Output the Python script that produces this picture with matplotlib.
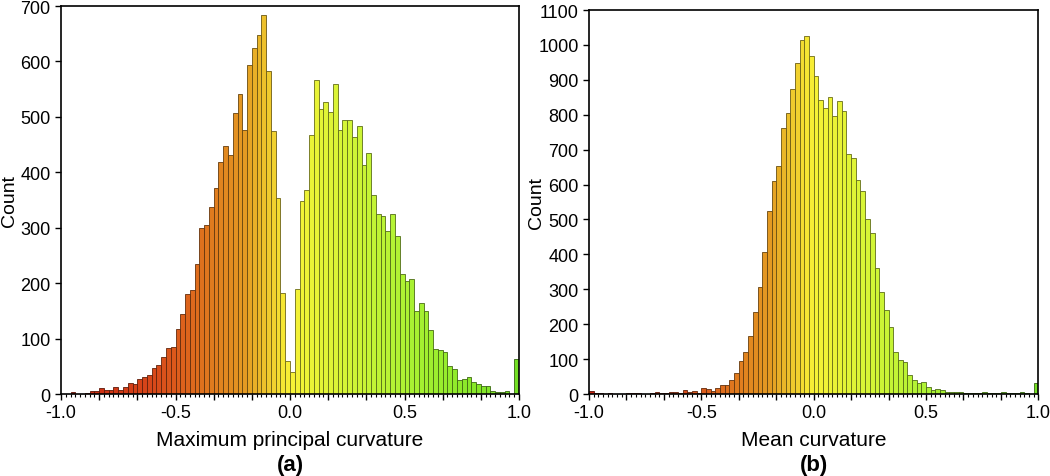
import numpy as np
import matplotlib.pyplot as plt
from matplotlib.colors import LinearSegmentedColormap, to_rgb
from matplotlib.ticker import MultipleLocator, FuncFormatter

plt.rcParams['font.family'] = ['Liberation Sans', 'DejaVu Sans']

# 96 bins between -1 and 1
n_bins = 96
bin_edges = np.linspace(-1.0, 1.0, n_bins + 1)

max_curv_counts = [
    0, 0, 4, 0, 0, 2, 5, 5, 10, 7, 7, 13, 7, 13, 19, 18,
    27, 30, 35, 47, 53, 67, 83, 85, 117, 144, 181, 188, 234, 300, 305, 337,
    371, 418, 447, 432, 507, 541, 477, 594, 625, 648, 683, 583, 474, 353, 182, 60,
    39, 190, 348, 368, 468, 567, 515, 527, 509, 559, 476, 495, 494, 464, 483, 414,
    434, 359, 324, 321, 294, 324, 285, 216, 203, 207, 149, 164, 150, 115, 82, 80,
    75, 51, 45, 26, 27, 30, 21, 18, 15, 15, 5, 3, 3, 6, 0, 63,
]

mean_curv_counts = [
    8, 2, 4, 1, 4, 0, 0, 0, 2, 4, 4, 1, 0, 2, 7, 4,
    4, 6, 7, 3, 11, 6, 9, 4, 16, 14, 8, 16, 27, 27, 41, 60,
    94, 121, 165, 234, 306, 406, 525, 609, 654, 761, 805, 874, 948, 1015, 1026, 967,
    912, 843, 818, 850, 797, 838, 812, 687, 677, 614, 581, 501, 460, 362, 293, 242,
    191, 121, 97, 91, 54, 39, 31, 33, 21, 11, 14, 11, 5, 7, 7, 7,
    2, 4, 4, 4, 7, 4, 2, 4, 7, 4, 2, 2, 5, 2, 1, 31,
]

x_labels = ["Maximum principal curvature", "Mean curvature"]
panel_tags = ["(a)", "(b)"]
y_max = [700, 1100]

cmap = LinearSegmentedColormap.from_list("curv", [
    (0.0, '#c8220f'),
    (0.2, '#d8481a'),
    (0.3, '#df6e1d'),
    (0.4, '#e49a22'),
    (0.5, '#f8f236'),
    (0.625, '#d4f536'),
    (0.75, '#aef233'),
    (0.875, '#8eea2a'),
    (1.0, '#72e024'),
])


def tick_fmt(v, pos):
    k = round(v * 6)
    if k % 3 == 0:
        return "{:.1f}".format(k / 6 + 0.0)
    return ""


def draw_hist(ax, counts, xlabel, tag, ymax, ylab_x):
    left = bin_edges[:-1]
    width = bin_edges[1] - bin_edges[0]
    centers = left + width / 2
    faces = [cmap((c + 1) / 2) for c in centers]
    edges = [tuple(np.array(to_rgb(f)) * 0.45) for f in faces]
    ax.bar(left, counts, width=width, align='edge', color=faces,
           edgecolor=edges, linewidth=0.6)

    ax.set_xlim(-1, 1)
    ax.set_ylim(0, ymax)
    ax.xaxis.set_major_locator(MultipleLocator(1 / 6))
    ax.xaxis.set_major_formatter(FuncFormatter(tick_fmt))
    ax.xaxis.set_minor_locator(MultipleLocator(1 / 48))
    ax.yaxis.set_major_locator(MultipleLocator(100))
    ax.tick_params(axis='both', which='major', direction='out', length=4,
                   width=1, labelsize=13, colors='black')
    ax.tick_params(axis='x', which='minor', direction='out', length=2, width=0.8)
    ax.tick_params(axis='y', which='minor', left=False)
    for s in ax.spines.values():
        s.set_linewidth(1.2)
    ax.set_ylabel("Count", fontsize=14, va='center')
    ax.yaxis.set_label_coords(ylab_x, 0.5)
    ax.set_xlabel(xlabel, fontsize=15, labelpad=6)
    ax.text(0.5, -0.155, tag, transform=ax.transAxes, ha='center', va='top',
            fontsize=16, fontweight='bold')


fig = plt.figure(figsize=(10.5, 4.77), dpi=100)
ax1 = fig.add_axes([0.0581, 0.1719, 0.4362, 0.8134])
ax2 = fig.add_axes([0.5610, 0.1719, 0.4279, 0.8050])

draw_hist(ax1, max_curv_counts, x_labels[0], panel_tags[0], y_max[0], -0.112)
draw_hist(ax2, mean_curv_counts, x_labels[1], panel_tags[1], y_max[1], -0.116)

fig.savefig("out.png", dpi=100)
